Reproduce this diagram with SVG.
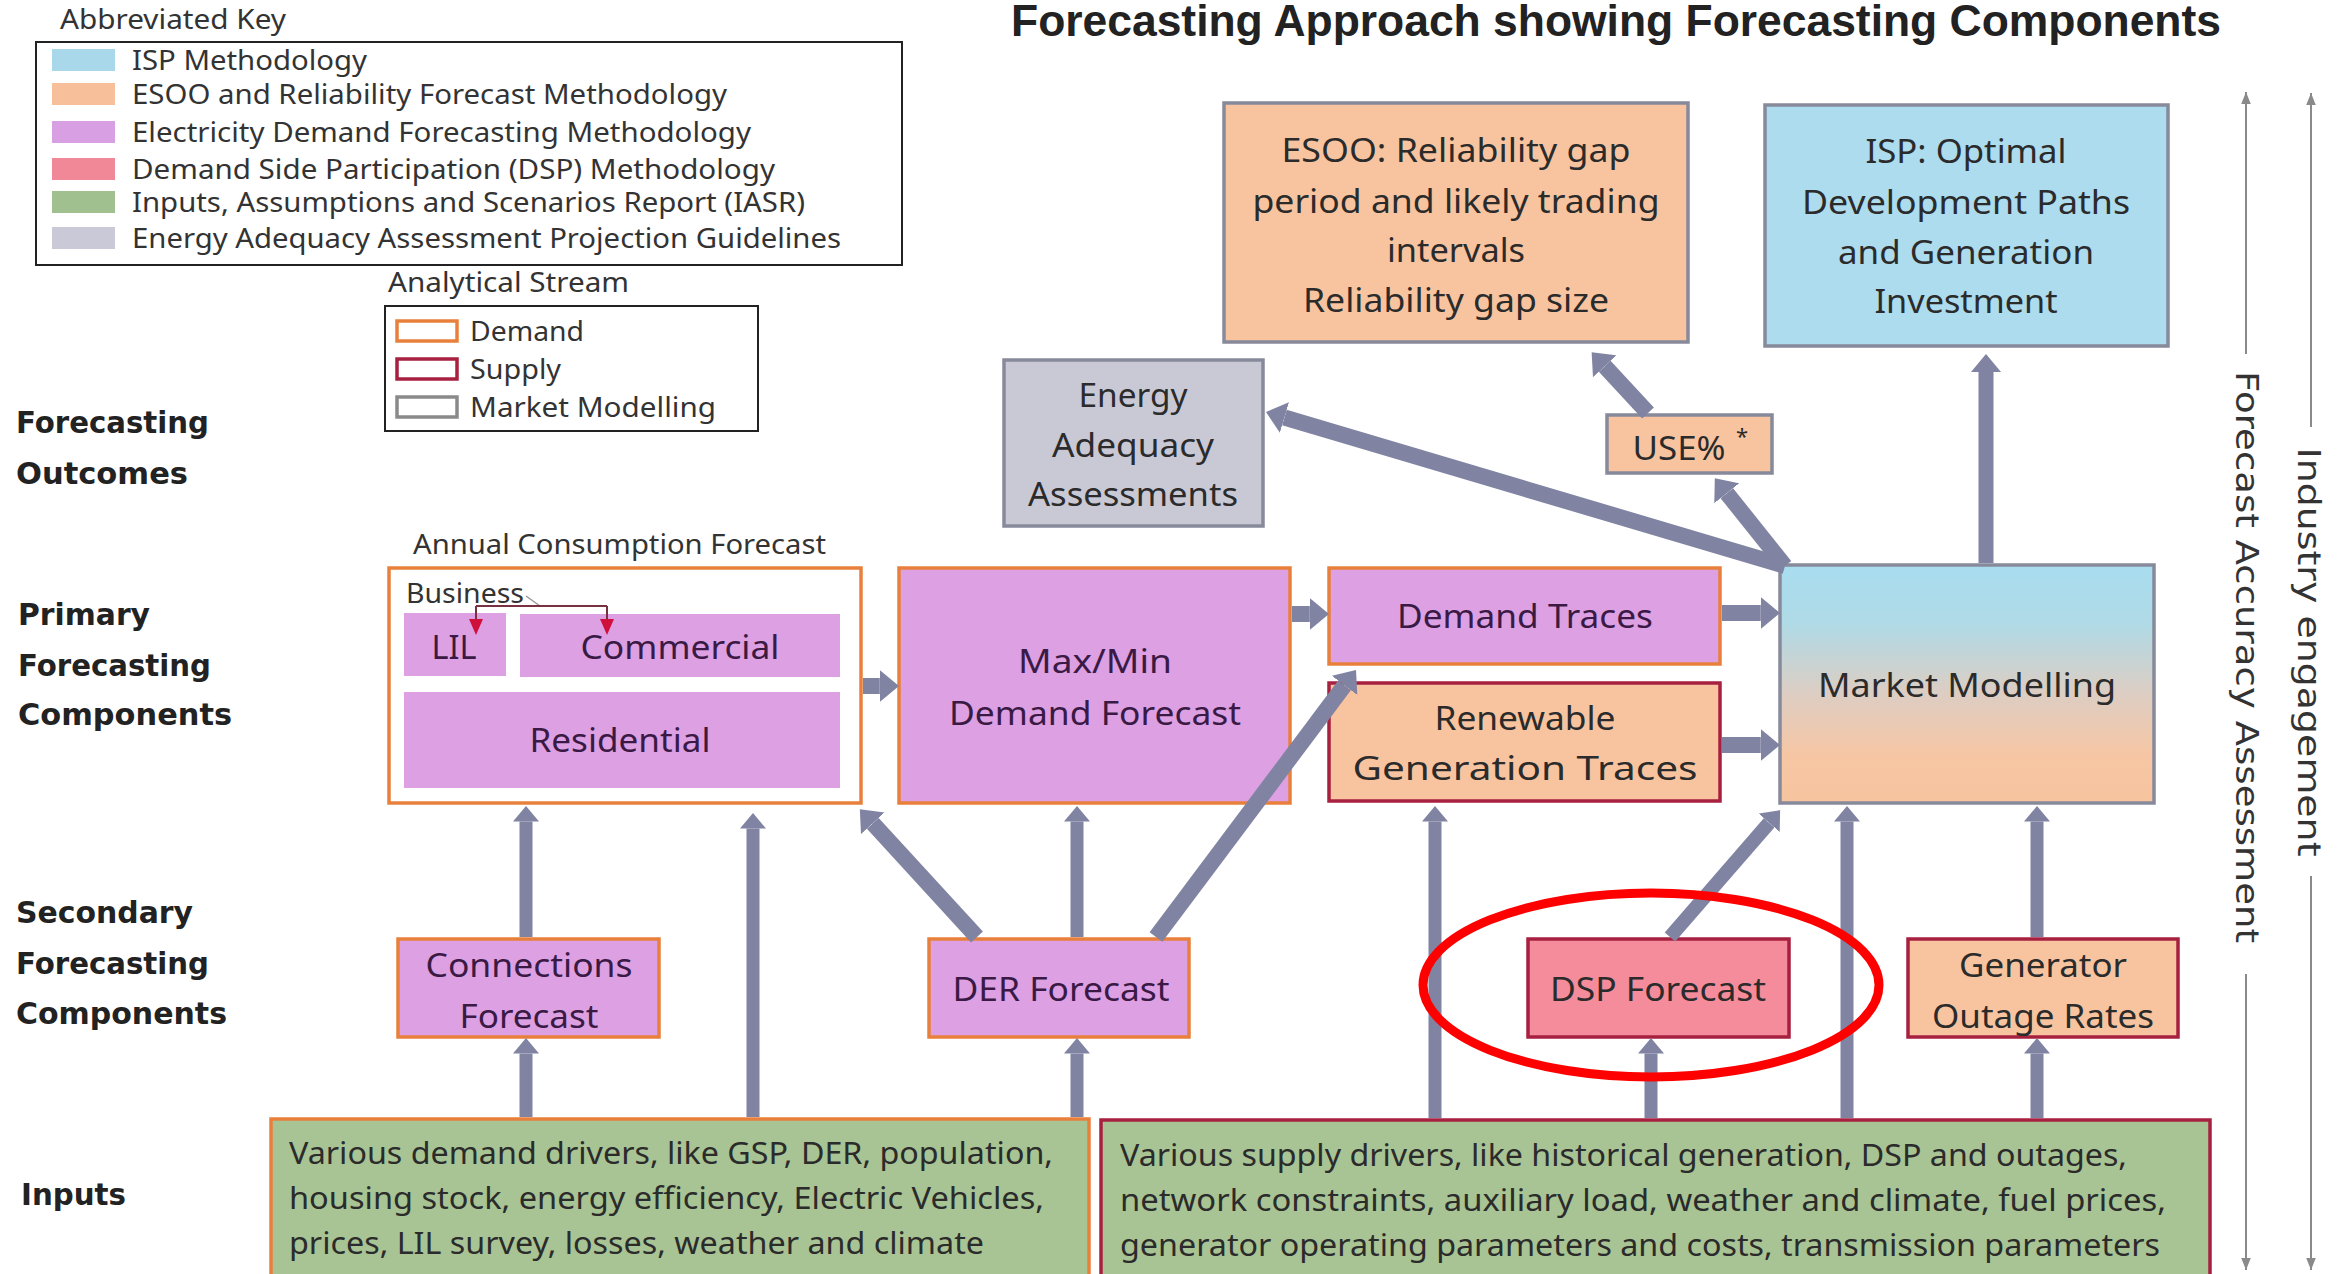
<svg xmlns="http://www.w3.org/2000/svg" width="2349" height="1274" viewBox="0 0 2349 1274">
<style>
text{font-family:"Noto Sans","Liberation Sans",sans-serif;fill:#2b2b2b}
.k{font-size:27px;fill:#333}
.b{font-size:32px;text-anchor:middle}
.bp{font-size:32px;text-anchor:middle;fill:#3a1a45}
.in{font-size:30px;fill:#2b2b2b}
.lbl{font-family:"DejaVu Sans",sans-serif;font-weight:bold;font-size:30px;fill:#222}
.vt{font-family:"DejaVu Sans",sans-serif;font-size:32px;fill:#333;text-anchor:middle;dominant-baseline:central}
.dem{stroke:#E8803C;stroke-width:3.5}
.sup{stroke:#A82040;stroke-width:3.5}
.mm{stroke:#868A9A;stroke-width:3.5}
.pur{fill:#DDA0E3}
.pch{fill:#F8C4A0}
.con{fill:none;stroke:#8084A2}
.thin{fill:none;stroke:#8a8a8a;stroke-width:2}
</style>
<defs>
<marker id="ah" viewBox="0 0 12 20" refX="0" refY="10" markerWidth="1.2" markerHeight="2" orient="auto" markerUnits="strokeWidth"><path d="M0,0 L12,10 L0,20 z" fill="#8084A2"/></marker>
<marker id="sa" viewBox="0 0 10 8" refX="10" refY="4" markerWidth="6" markerHeight="4.8" orient="auto" markerUnits="strokeWidth"><path d="M0,0 L10,4 L0,8 z" fill="#8a8a8a"/></marker>
<linearGradient id="mmg" x1="0" y1="0" x2="0" y2="1">
<stop offset="0" stop-color="#A8DDF0"/>
<stop offset="0.25" stop-color="#B0DAE6"/>
<stop offset="0.55" stop-color="#DECDC2"/>
<stop offset="0.8" stop-color="#F6C6A4"/>
<stop offset="1" stop-color="#F8C4A0"/>
</linearGradient>
</defs>
<rect width="2349" height="1274" fill="#fff"/>

<g id="title"><text x="1011" y="36" font-weight="bold" font-size="44" textLength="1210" lengthAdjust="spacingAndGlyphs" style="font-family:'Liberation Sans',sans-serif;fill:#222">Forecasting Approach showing Forecasting Components</text></g>

<g id="key">
<text x="60" y="29" class="k" textLength="226" lengthAdjust="spacingAndGlyphs">Abbreviated Key</text>
<rect x="36" y="42" width="866" height="223" fill="#fff" stroke="#222" stroke-width="2"/>
<rect x="52" y="49" width="63" height="22" fill="#A9D8EA"/>
<rect x="52" y="83" width="63" height="22" fill="#F8C09A"/>
<rect x="52" y="121" width="63" height="22" fill="#D8A0E2"/>
<rect x="52" y="158" width="63" height="22" fill="#F08898"/>
<rect x="52" y="191" width="63" height="22" fill="#A0C090"/>
<rect x="52" y="227" width="63" height="22" fill="#C9C9D8"/>
<text x="132" y="70" class="k" textLength="235" lengthAdjust="spacingAndGlyphs">ISP Methodology</text>
<text x="132" y="104" class="k" textLength="595" lengthAdjust="spacingAndGlyphs">ESOO and Reliability Forecast Methodology</text>
<text x="132" y="142" class="k" textLength="619" lengthAdjust="spacingAndGlyphs">Electricity Demand Forecasting Methodology</text>
<text x="132" y="179" class="k" textLength="643" lengthAdjust="spacingAndGlyphs">Demand Side Participation (DSP) Methodology</text>
<text x="132" y="212" class="k" textLength="673" lengthAdjust="spacingAndGlyphs">Inputs, Assumptions and Scenarios Report (IASR)</text>
<text x="132" y="248" class="k" textLength="709" lengthAdjust="spacingAndGlyphs">Energy Adequacy Assessment Projection Guidelines</text>
</g>

<g id="stream">
<text x="388" y="292" class="k" textLength="241" lengthAdjust="spacingAndGlyphs">Analytical Stream</text>
<rect x="385" y="306" width="373" height="125" fill="#fff" stroke="#222" stroke-width="2"/>
<rect x="397" y="321" width="60" height="20" fill="#fff" stroke="#E8803C" stroke-width="3.5"/>
<rect x="397" y="359" width="60" height="20" fill="#fff" stroke="#A82040" stroke-width="3.5"/>
<rect x="397" y="397" width="60" height="20" fill="#fff" stroke="#8a8a8a" stroke-width="3.5"/>
<text x="470" y="341" class="k" textLength="114" lengthAdjust="spacingAndGlyphs">Demand</text>
<text x="470" y="379" class="k" textLength="91" lengthAdjust="spacingAndGlyphs">Supply</text>
<text x="470" y="417" class="k" textLength="246" lengthAdjust="spacingAndGlyphs">Market Modelling</text>
</g>

<g id="row-labels">
<text x="16" y="433" class="lbl" textLength="193" lengthAdjust="spacingAndGlyphs">Forecasting</text>
<text x="16" y="484" class="lbl" textLength="172" lengthAdjust="spacingAndGlyphs">Outcomes</text>
<text x="18" y="625" class="lbl" textLength="132" lengthAdjust="spacingAndGlyphs">Primary</text>
<text x="18" y="676" class="lbl" textLength="193" lengthAdjust="spacingAndGlyphs">Forecasting</text>
<text x="18" y="725" class="lbl" textLength="214" lengthAdjust="spacingAndGlyphs">Components</text>
<text x="16" y="923" class="lbl" textLength="177" lengthAdjust="spacingAndGlyphs">Secondary</text>
<text x="16" y="974" class="lbl" textLength="193" lengthAdjust="spacingAndGlyphs">Forecasting</text>
<text x="16" y="1024" class="lbl" textLength="211" lengthAdjust="spacingAndGlyphs">Components</text>
<text x="21" y="1205" class="lbl" textLength="105" lengthAdjust="spacingAndGlyphs">Inputs</text>
</g>

<g id="side-axes">
<path class="thin" d="M2246,354 V92" marker-end="url(#sa)"/>
<path class="thin" d="M2246,974 V1270" marker-end="url(#sa)"/>
<path class="thin" d="M2311,427 V93" marker-end="url(#sa)"/>
<path class="thin" d="M2311,876 V1270" marker-end="url(#sa)"/>
<text class="vt" transform="translate(2247,657) rotate(90)" textLength="572" lengthAdjust="spacingAndGlyphs">Forecast Accuracy Assessment</text>
<text class="vt" transform="translate(2309,652) rotate(90)" textLength="409" lengthAdjust="spacingAndGlyphs">Industry engagement</text>
</g>

<g id="esoo">
<rect x="1224" y="103" width="464" height="239" class="pch mm"/>
<text x="1456" y="162" class="b" textLength="349" lengthAdjust="spacingAndGlyphs">ESOO: Reliability gap</text>
<text x="1456" y="213" class="b" textLength="407" lengthAdjust="spacingAndGlyphs">period and likely trading</text>
<text x="1456" y="262" class="b" textLength="138" lengthAdjust="spacingAndGlyphs">intervals</text>
<text x="1456" y="312" class="b" textLength="306" lengthAdjust="spacingAndGlyphs">Reliability gap size</text>
</g>

<g id="isp">
<rect x="1765" y="105" width="403" height="241" fill="#ADDCEE" class="mm"/>
<text x="1966" y="163" class="b" textLength="201" lengthAdjust="spacingAndGlyphs">ISP: Optimal</text>
<text x="1966" y="214" class="b" textLength="328" lengthAdjust="spacingAndGlyphs">Development  Paths</text>
<text x="1966" y="264" class="b" textLength="256" lengthAdjust="spacingAndGlyphs">and Generation</text>
<text x="1966" y="313" class="b" textLength="183" lengthAdjust="spacingAndGlyphs">Investment</text>
</g>

<g id="eaa">
<rect x="1004" y="360" width="259" height="166" fill="#C9C9D6" class="mm"/>
<text x="1133" y="407" class="b" textLength="109" lengthAdjust="spacingAndGlyphs">Energy</text>
<text x="1133" y="457" class="b" textLength="162" lengthAdjust="spacingAndGlyphs">Adequacy</text>
<text x="1133" y="506" class="b" textLength="210" lengthAdjust="spacingAndGlyphs">Assessments</text>
</g>

<g id="use">
<rect x="1607" y="415" width="165" height="58" class="pch mm"/>
<text x="1679" y="460" class="b" textLength="93" lengthAdjust="spacingAndGlyphs">USE%</text>
<text x="1742" y="444" font-size="22" text-anchor="middle">*</text>
</g>

<g id="annual">
<text x="413" y="554" class="k" textLength="413" lengthAdjust="spacingAndGlyphs">Annual Consumption Forecast</text>
<rect x="389" y="568" width="472" height="235" fill="#fff" class="dem"/>
<rect x="404" y="613" width="102" height="63" class="pur"/>
<rect x="520" y="614" width="320" height="63" class="pur"/>
<rect x="404" y="692" width="436" height="96" class="pur"/>
<text x="406" y="603" class="k" textLength="118" lengthAdjust="spacingAndGlyphs">Business</text>
<text x="454" y="659" class="bp" textLength="45" lengthAdjust="spacingAndGlyphs">LIL</text>
<text x="680" y="659" class="bp" textLength="199" lengthAdjust="spacingAndGlyphs">Commercial</text>
<text x="620" y="752" class="bp" textLength="181" lengthAdjust="spacingAndGlyphs">Residential</text>
<path d="M526,596 L540,606" fill="none" stroke="#999" stroke-width="1.5"/>
<path d="M476,606 H607 M476,606 V620 M607,606 V620" fill="none" stroke="#7a3040" stroke-width="2"/>
<path d="M469,619 L483,619 L476,635 z M600,619 L614,619 L607,635 z" fill="#D0103C"/>
</g>

<g id="maxmin">
<rect x="899" y="568" width="391" height="235" class="pur dem"/>
<text x="1095" y="673" class="bp" textLength="154" lengthAdjust="spacingAndGlyphs">Max/Min</text>
<text x="1095" y="725" class="bp" textLength="292" lengthAdjust="spacingAndGlyphs">Demand Forecast</text>
</g>

<g id="demand-traces">
<rect x="1329" y="568" width="391" height="96" class="pur dem"/>
<text x="1525" y="628" class="bp" textLength="256" lengthAdjust="spacingAndGlyphs">Demand Traces</text>
</g>

<g id="renewable-traces">
<rect x="1329" y="683" width="391" height="118" class="pch sup"/>
<text x="1525" y="730" class="b" textLength="181" lengthAdjust="spacingAndGlyphs">Renewable</text>
<text x="1525" y="780" class="b" textLength="345" lengthAdjust="spacingAndGlyphs">Generation Traces</text>
</g>

<g id="market-modelling">
<rect x="1780" y="565" width="374" height="238" fill="url(#mmg)" class="mm"/>
<text x="1967" y="697" class="b" textLength="298" lengthAdjust="spacingAndGlyphs">Market Modelling</text>
</g>

<g id="connections">
<rect x="398" y="939" width="261" height="98" class="pur dem"/>
<text x="529" y="977" class="bp" textLength="207" lengthAdjust="spacingAndGlyphs">Connections</text>
<text x="529" y="1028" class="bp" textLength="139" lengthAdjust="spacingAndGlyphs">Forecast</text>
</g>

<g id="der">
<rect x="929" y="939" width="260" height="98" class="pur dem"/>
<text x="1061" y="1001" class="bp" textLength="217" lengthAdjust="spacingAndGlyphs">DER Forecast</text>
</g>

<g id="dsp">
<rect x="1528" y="939" width="261" height="98" fill="#F48C9C" class="sup"/>
<text x="1658" y="1001" class="b" textLength="216" lengthAdjust="spacingAndGlyphs">DSP Forecast</text>
</g>

<g id="generator">
<rect x="1908" y="939" width="270" height="98" class="pch sup"/>
<text x="2043" y="977" class="b" textLength="168" lengthAdjust="spacingAndGlyphs">Generator</text>
<text x="2043" y="1028" class="b" textLength="222" lengthAdjust="spacingAndGlyphs">Outage Rates</text>
</g>

<g id="demand-inputs">
<rect x="271" y="1119" width="818" height="170" fill="#A8C494" class="dem"/>
<text x="289" y="1164" class="in" textLength="764" lengthAdjust="spacingAndGlyphs">Various demand drivers, like GSP, DER, population,</text>
<text x="289" y="1209" class="in" textLength="755" lengthAdjust="spacingAndGlyphs">housing stock, energy efficiency, Electric Vehicles,</text>
<text x="289" y="1254" class="in" textLength="695" lengthAdjust="spacingAndGlyphs">prices, LIL survey, losses, weather and climate</text>
</g>

<g id="supply-inputs">
<rect x="1101" y="1120" width="1109" height="170" fill="#A8C494" class="sup"/>
<text x="1120" y="1166" class="in" textLength="1007" lengthAdjust="spacingAndGlyphs">Various supply drivers, like historical generation, DSP and outages,</text>
<text x="1120" y="1211" class="in" textLength="1046" lengthAdjust="spacingAndGlyphs">network constraints, auxiliary load, weather and climate, fuel prices,</text>
<text x="1120" y="1256" class="in" textLength="1040" lengthAdjust="spacingAndGlyphs">generator operating parameters and costs, transmission parameters</text>
</g>

<g id="connectors">
<g class="con" stroke-width="13" marker-end="url(#ah)">
<path d="M526,937 V821.6"/>
<path d="M526,1117 V1053.6"/>
<path d="M753,1117 V828.6"/>
<path d="M1077,937 V821.6"/>
<path d="M1077,1117 V1053.6"/>
<path d="M1435,1118 V821.6"/>
<path d="M1651,1118 V1053.6"/>
<path d="M1847,1118 V821.6"/>
<path d="M2037,937 V821.6"/>
<path d="M2037,1118 V1053.6"/>
</g>
<path class="con" stroke-width="15" marker-end="url(#ah)" d="M1986,563 V372"/>
<g class="con" stroke-width="16" marker-end="url(#ah)">
<path d="M863,686 H879.8"/>
<path d="M1292,614 H1309.8"/>
<path d="M1722,613 H1760.8"/>
<path d="M1722,745 H1760.8"/>
<path d="M1785,566 L1284.4,417.5"/>
<path d="M1785,566 L1726.8,493.2"/>
<path d="M1648,413 L1604.7,366.3"/>
<path d="M977,937 L872.8,823.3"/>
<path d="M1156,937 L1344.5,685.4"/>
</g>
<path class="con" stroke-width="14" marker-end="url(#ah)" d="M1670,937 L1769.1,822.8"/>
</g>

<g id="highlight">
<ellipse cx="1651" cy="985" rx="228" ry="92" fill="none" stroke="#FF0000" stroke-width="9"/>
</g>
</svg>
